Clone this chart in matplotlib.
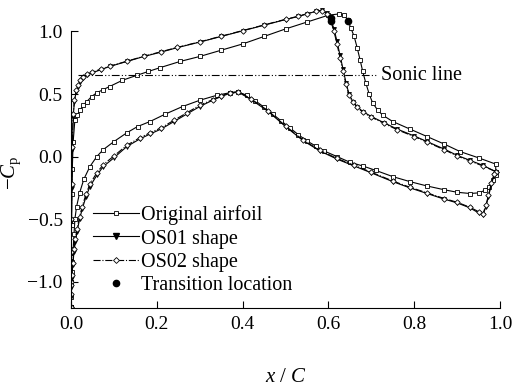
import matplotlib
matplotlib.use("Agg")
import matplotlib.pyplot as plt
from matplotlib.lines import Line2D

plt.rcParams["font.family"] = ["Liberation Serif", "DejaVu Serif"]
plt.rcParams["mathtext.fontset"] = "custom"
plt.rcParams["mathtext.it"] = "Liberation Serif:italic"
plt.rcParams["mathtext.rm"] = "Liberation Serif"

# upper surface, original airfoil (later shock)
orig_up_x = [0.0, 0.0003, 0.0007, 0.0012, 0.002, 0.003, 0.005, 0.009, 0.014, 0.021, 0.028,
             0.037, 0.048, 0.06, 0.075, 0.09, 0.12, 0.154, 0.18, 0.207, 0.254, 0.3, 0.35,
             0.4, 0.45, 0.5, 0.55, 0.6, 0.625, 0.637, 0.645, 0.652, 0.66, 0.667, 0.674,
             0.68, 0.687, 0.695, 0.703, 0.715, 0.727, 0.75, 0.79, 0.83, 0.87, 0.907, 0.95, 0.99]
orig_up_y = [-1.2, -1.0, -0.8, -0.55, -0.3, -0.1, 0.12, 0.29, 0.33, 0.37, 0.41,
             0.44, 0.48, 0.51, 0.535, 0.56, 0.61, 0.65, 0.68, 0.71, 0.76, 0.8, 0.85,
             0.9, 0.96, 1.02, 1.075, 1.13, 1.14, 1.13, 1.09, 1.03, 0.96, 0.87, 0.77,
             0.68, 0.59, 0.5, 0.43, 0.37, 0.33, 0.28, 0.22, 0.16, 0.1, 0.04, -0.01, -0.06]

# lower surface, original airfoil
orig_lo_x = [0.0, 0.0005, 0.001, 0.002, 0.003, 0.005, 0.007, 0.009, 0.013, 0.02, 0.03,
             0.044, 0.06, 0.075, 0.1, 0.13, 0.155, 0.184, 0.22, 0.26, 0.3, 0.34, 0.37,
             0.39, 0.41, 0.43, 0.45, 0.47, 0.49, 0.51, 0.53, 0.55, 0.57, 0.59, 0.62, 0.65,
             0.68, 0.71, 0.75, 0.79, 0.83, 0.87, 0.9, 0.93, 0.95, 0.965, 0.975, 0.983, 0.99]
orig_lo_y = [-1.2, -1.12, -1.02, -0.92, -0.84, -0.74, -0.62, -0.5, -0.4, -0.29, -0.18,
             -0.08, 0.0, 0.055, 0.12, 0.19, 0.24, 0.28, 0.34, 0.4, 0.45, 0.49, 0.51,
             0.515, 0.49, 0.445, 0.395, 0.34, 0.285, 0.23, 0.175, 0.125, 0.085, 0.045, 0.0, -0.045,
             -0.075, -0.11, -0.16, -0.2, -0.235, -0.265, -0.285, -0.295, -0.29, -0.27, -0.24, -0.19, -0.15]

# upper surface, OS01 shape (earlier shock)
os01_up_x = [0.0, 0.0002, 0.0005, 0.001, 0.0018, 0.003, 0.005, 0.008, 0.012, 0.016, 0.022,
             0.028, 0.038, 0.05, 0.07, 0.09, 0.13, 0.17, 0.21, 0.247, 0.3, 0.35, 0.4, 0.45,
             0.5, 0.53, 0.55, 0.57, 0.585, 0.597, 0.605, 0.613, 0.62, 0.627, 0.634, 0.641,
             0.648, 0.657, 0.667, 0.68, 0.7, 0.73, 0.76, 0.8, 0.83, 0.87, 0.9, 0.93, 0.96, 0.99]
os01_up_y = [-1.2, -1.0, -0.78, -0.52, -0.25, 0.05, 0.32, 0.44, 0.52, 0.56, 0.6,
             0.63, 0.655, 0.67, 0.695, 0.72, 0.76, 0.8, 0.835, 0.87, 0.915, 0.96, 1.005, 1.05,
             1.095, 1.12, 1.14, 1.16, 1.17, 1.145, 1.1, 1.02, 0.92, 0.81, 0.7, 0.59,
             0.5, 0.44, 0.4, 0.36, 0.32, 0.27, 0.22, 0.165, 0.12, 0.06, 0.01, -0.03, -0.07, -0.12]

# lower surface, OS01 shape
os01_lo_x = [0.0, 0.0005, 0.001, 0.002, 0.004, 0.007, 0.01, 0.014, 0.02, 0.026, 0.035,
             0.044, 0.06, 0.075, 0.1, 0.13, 0.16, 0.184, 0.21, 0.24, 0.27, 0.3, 0.33, 0.35,
             0.37, 0.39, 0.42, 0.46, 0.5, 0.54, 0.58, 0.62, 0.66, 0.7, 0.75, 0.79, 0.83,
             0.87, 0.9, 0.93, 0.95, 0.96, 0.967, 0.973, 0.98, 0.986, 0.99]
os01_lo_y = [-1.2, -1.12, -1.05, -0.97, -0.87, -0.76, -0.68, -0.6, -0.5, -0.42, -0.32,
             -0.24, -0.15, -0.08, -0.01, 0.08, 0.14, 0.18, 0.22, 0.28, 0.34, 0.4, 0.45, 0.48,
             0.505, 0.515, 0.455, 0.36, 0.24, 0.13, 0.045, -0.02, -0.075, -0.13, -0.2, -0.25, -0.295,
             -0.34, -0.37, -0.41, -0.45, -0.47, -0.4, -0.32, -0.22, -0.15, -0.12]

# OS02 shape sits almost on top of OS01
os02_up_x = os01_up_x
os02_up_y = [-1.2, -1.0, -0.76, -0.5, -0.22, 0.08, 0.34, 0.45, 0.53, 0.57, 0.61,
             0.635, 0.66, 0.675, 0.7, 0.722, 0.762, 0.802, 0.838, 0.872, 0.917, 0.962, 1.007, 1.052,
             1.097, 1.122, 1.142, 1.16, 1.165, 1.14, 1.09, 1.0, 0.9, 0.79, 0.68, 0.58,
             0.49, 0.435, 0.395, 0.355, 0.315, 0.265, 0.215, 0.16, 0.115, 0.055, 0.005, -0.035, -0.075, -0.12]
os02_lo_x = os01_lo_x
os02_lo_y = [-1.2, -1.1, -1.03, -0.95, -0.85, -0.74, -0.66, -0.58, -0.48, -0.4, -0.3,
             -0.22, -0.13, -0.065, 0.005, 0.09, 0.15, 0.19, 0.23, 0.29, 0.35, 0.41, 0.455, 0.485,
             0.51, 0.52, 0.46, 0.365, 0.245, 0.135, 0.05, -0.015, -0.07, -0.125, -0.195, -0.245, -0.29,
             -0.335, -0.365, -0.405, -0.44, -0.46, -0.39, -0.31, -0.21, -0.14, -0.12]

trans_x = [0.645, 0.605, 0.607]
trans_y = [1.08, 1.11, 1.08]

sonic_cp = 0.65
sonic_x = [0.016, 0.713]


def loop(up_x, up_y, lo_x, lo_y):
    return list(up_x) + list(lo_x)[::-1], list(up_y) + list(lo_y)[::-1]


fig = plt.figure(figsize=(5.12, 3.89), dpi=100)
ax = fig.add_axes([0.1387, 0.2082, 0.8379, 0.7753])

mk = dict(markersize=2.8, markeredgewidth=0.6, markeredgecolor="black", color="black", lw=0.8)

x, y = loop(orig_up_x, orig_up_y, orig_lo_x, orig_lo_y)
ax.plot(x, y, "-", marker="s", markerfacecolor="white", **mk)
x, y = loop(os01_up_x, os01_up_y, os01_lo_x, os01_lo_y)
ax.plot(x, y, "-", marker="v", markerfacecolor="black", **mk)
x, y = loop(os02_up_x, os02_up_y, os02_lo_x, os02_lo_y)
ax.plot(x, y, "-.", marker="D", markerfacecolor="white", **mk)

ax.plot(trans_x, trans_y, "o", color="black", markersize=4.5, zorder=5)

ax.plot(sonic_x, [sonic_cp, sonic_cp], color="black", lw=0.8, dashes=(7, 2, 1, 2, 1, 2))
ax.text(0.723, sonic_cp, "Sonic line", fontsize=14.5, va="center", ha="left")

ax.set_xlim(0, 1.0)
ax.set_ylim(-1.21, 1.2)
ax.set_xticks([0.0, 0.2, 0.4, 0.6, 0.8, 1.0])
ax.set_yticks([-1.0, -0.5, 0.0, 0.5, 1.0])
ax.set_xticklabels(["0.0", "0.2", "0.4", "0.6", "0.8", "1.0"])
ax.set_yticklabels(["\u22121.0", "\u22120.5", "0.0", "0.5", "1.0"])
ax.tick_params(direction="in", length=5, width=0.8, labelsize=14, pad=6)
for side in ("top", "right"):
    ax.spines[side].set_visible(False)
ax.spines["left"].set_bounds(-1.21, 1.0)
ax.spines["left"].set_linewidth(0.8)
ax.spines["bottom"].set_linewidth(0.8)

ax.set_xlabel("$x$ / $C$", fontsize=15)
ax.xaxis.set_label_coords(0.5, -0.2)
ax.set_ylabel("\u2212$C_\\mathrm{p}$", fontsize=15)
ax.yaxis.set_label_coords(-0.112, 0.45)

handles = [
    Line2D([], [], color="black", lw=0.8, marker="s", markersize=2.8, markerfacecolor="white", markeredgewidth=0.6),
    Line2D([], [], color="black", lw=0.8, marker="v", markersize=4, markerfacecolor="black"),
    Line2D([], [], color="black", lw=0.8, ls="-.", marker="D", markersize=3, markerfacecolor="white", markeredgewidth=0.6),
    Line2D([], [], color="black", ls="none", marker="o", markersize=4.5),
]
labels = ["Original airfoil", "OS01 shape", "OS02 shape", "Transition location"]
ax.legend(handles, labels, loc="upper left", bbox_to_anchor=(0.051, 0.34), frameon=False,
          fontsize=14.5, handlelength=2.3, handletextpad=0.1, labelspacing=0.2,
          borderpad=0, borderaxespad=0, markerscale=1)

fig.savefig("out.png", dpi=100)
